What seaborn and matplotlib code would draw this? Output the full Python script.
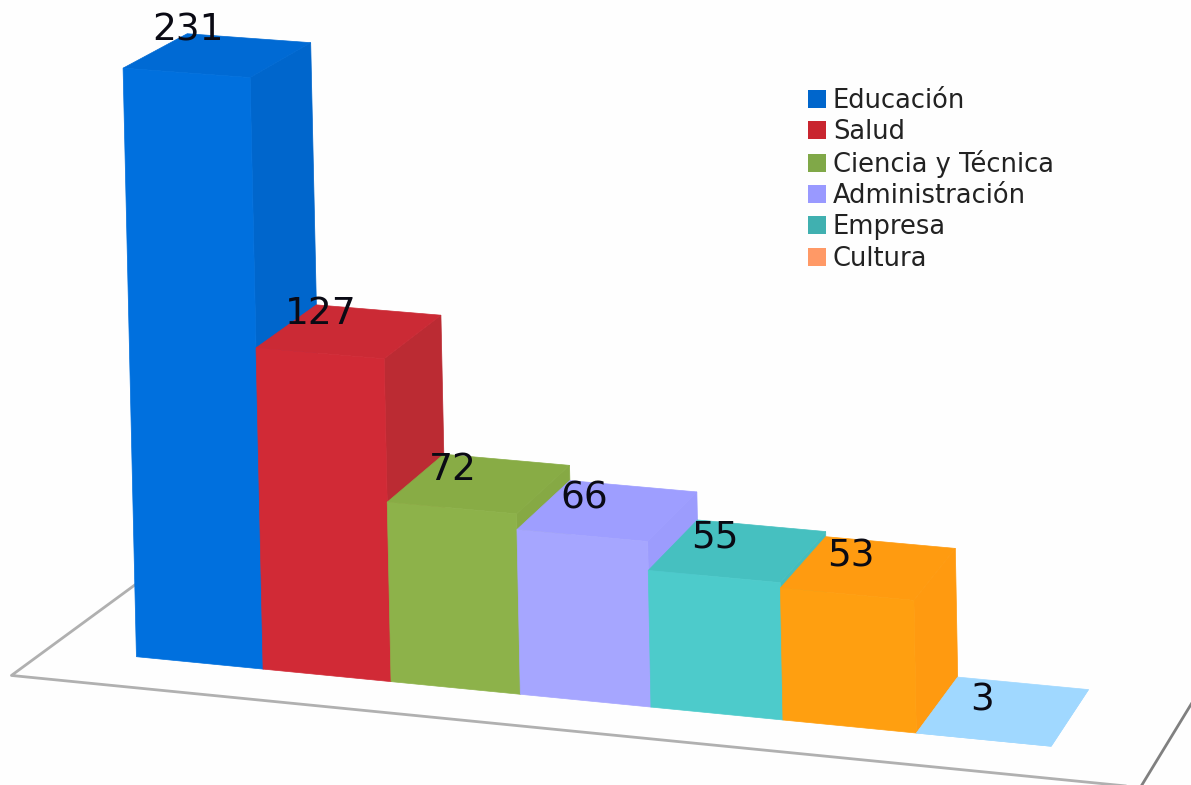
import numpy as np
import matplotlib
matplotlib.use("Agg")
import matplotlib.pyplot as plt
from matplotlib.patches import Patch, Polygon
from matplotlib.lines import Line2D
from matplotlib.transforms import Affine2D, Transform
import seaborn as sns

# --- data ---------------------------------------------------------------
categorias = ["Educación", "Salud", "Ciencia y Técnica", "Administración",
              "Empresa", "Cultura", " "]
valores = [231, 127, 72, 66, 55, 53, 3]
etiquetas_leyenda = categorias[:6]

# --- style --------------------------------------------------------------
col_frente = ["#0070DE", "#D12A36", "#8DB24A", "#A6A6FF", "#4DCBCB", "#FF9F10", "#A0D8FF"]
col_arriba = ["#006AD4", "#CB2A35", "#88AC45", "#9E9EFF", "#46C0C0", "#FF9B10", "#A0D8FF"]
col_lado = ["#0066CC", "#BB2B33", "#86A944", "#9C9CFD", "#45BDBD", "#FF9A10", "#A0D8FF"]
col_leyenda = ["#0066CC", "#C9252F", "#80A848", "#9999FF", "#40B0B0", "#FF9966"]
W, H = 1191, 785
VALOR_BASE = 3          # the floor of the 3-D scene sits at this value
offs_etiqueta = [(-30, -25), (-29, -17), (-27, -13), (-24, -12), (-23, -13), (-18, -11), (-21, -11)]

# camera of the pseudo-3D view: (position, height, depth) -> picture pixels
CAM = np.array([[125.3043, -0.06035299, 69.7327, 136.4303],
                [8.980009, -2.582349, -33.28057, 656.7017],
                [-0.005110068, -1.443244e-05, 0.03098272, 1.0]])


def proyecta(u, h, d):
    q = CAM @ np.vstack([u, h, d, np.ones_like(u)])
    return np.column_stack([q[0] / q[2], q[1] / q[2]])


class Frente(Transform):
    """Front plane of the scene: barplot data coordinates to pixels."""
    input_dims = output_dims = 2
    is_separable = False
    has_inverse = False

    def transform_non_affine(self, values):
        v = np.asarray(values, float)
        return proyecta(v[:, 0] + 0.5, np.maximum(v[:, 1] - VALOR_BASE, 0), np.zeros(len(v)))


sns.set_theme(style="white")
plt.rcParams["font.family"] = ["DejaVu Sans"]
fig = plt.figure(figsize=(W / 100, H / 100), dpi=100, facecolor="#FEFEFE")
ax = fig.add_axes([0, 0, 1, 1])
sns.barplot(x=categorias, y=valores, hue=categorias, palette=col_frente, width=1,
            dodge=False, legend=False, saturation=1, ax=ax)
ax.set_axis_off()

pix = Affine2D().scale(1, -1).translate(0, H)
frente = Frente() + pix

# floor outline
piso_u = np.array([-0.657, -0.715, 7.79])
piso_d = np.array([1.30, -0.51, -0.51])
ax.add_line(Line2D(*proyecta(piso_u, np.zeros(3), piso_d).T, color="#B0B0B0", lw=2.0,
                   transform=pix, zorder=1, clip_on=False))
ax.add_line(Line2D(*proyecta(np.array([7.79, 7.80]), np.zeros(2), np.array([-0.51, 1.30])).T,
                   color="#808080", lw=2.0, transform=pix, zorder=1, clip_on=False))

for i, (cont, v) in enumerate(zip(ax.containers, valores)):
    rect = cont[0]
    u0 = rect.get_x() + 0.5
    u1 = u0 + rect.get_width()
    h = max(v - VALOR_BASE, 0)
    rect.set_transform(frente)
    rect.set_clip_on(False)
    rect.set_edgecolor(col_frente[i])
    rect.set_linewidth(0.5)
    rect.set_zorder(3 + 3 * i)
    cara_top = proyecta(np.array([u0, u1, u1, u0]), np.full(4, h), np.array([0, 0, 1, 1.0]))
    cara_lado = proyecta(np.full(4, u1), np.array([0, h, h, 0.0]), np.array([0, 0, 1, 1.0]))
    ax.add_patch(Polygon(cara_lado, closed=True, fc=col_lado[i], ec=col_lado[i], lw=0.5,
                         transform=pix, zorder=2 + 3 * i, clip_on=False))
    ax.add_patch(Polygon(cara_top, closed=True, fc=col_arriba[i], ec=col_arriba[i], lw=0.5,
                         transform=pix, zorder=2 + 3 * i, clip_on=False))
    cx, cy = proyecta(np.array([(u0 + u1) / 2]), np.array([h]), np.array([0.5]))[0]
    dx, dy = offs_etiqueta[i]
    ax.text(cx + dx, cy + dy, str(v), transform=pix, fontsize=27, ha="center", va="center",
            color="#0A0A14", zorder=100, clip_on=False)

handles = [Patch(fc=c, ec="none") for c in col_leyenda]
leg = ax.legend(handles, etiquetas_leyenda, loc="upper left", bbox_to_anchor=(804 / W, 1 - 84 / H),
                bbox_transform=fig.transFigure, frameon=False, fontsize=18.5, ncol=1,
                handlelength=0.7, handleheight=0.7, handletextpad=0.27, labelspacing=0.2,
                labelcolor="#222222", borderpad=0.15, borderaxespad=0)
leg.set_zorder(200)

fig.savefig("out.png", dpi=100, facecolor=fig.get_facecolor())
